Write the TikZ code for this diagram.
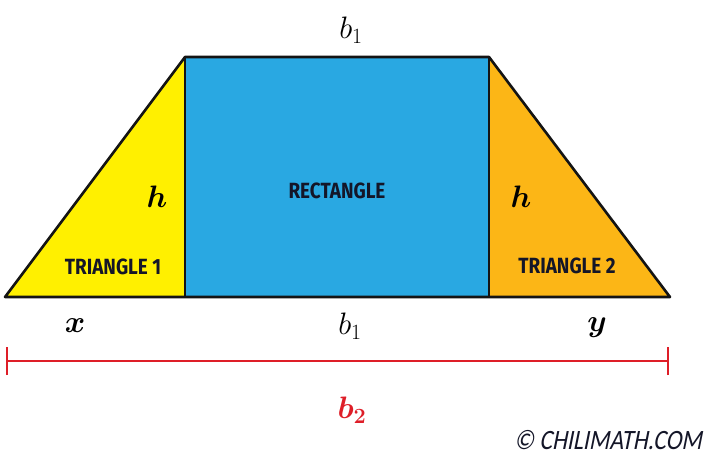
\RequirePackage{fix-cm}
\documentclass[tikz,border=0pt]{standalone}
\usepackage{fontspec}
\usepackage{amsmath}
\usepackage{bm}
\newfontfamily\labelfont[FakeStretch=0.86]{Fira Sans}
\newfontfamily\copyfont[FakeSlant=0.2,FakeStretch=0.85]{Carlito}
\definecolor{triyellow}{RGB}{255,240,0}
\definecolor{rectblue}{RGB}{41,168,226}
\definecolor{triorange}{RGB}{252,182,22}
\definecolor{lineborder}{RGB}{20,20,20}
\definecolor{redline}{RGB}{222,30,40}
\definecolor{navytext}{RGB}{20,22,40}
\tikzset{
  shapeborder/.style={draw=lineborder, line width=2.6pt, line join=round},
  partlabel/.style={font=\labelfont\bfseries\fontsize{22}{24}\selectfont, text=navytext, inner sep=0pt},
  mathlabel/.style={font=\fontsize{31}{36}\selectfont, inner sep=0pt},
  redbar/.style={draw=redline, line width=2.6pt}
}
\begin{document}
\begin{tikzpicture}[x=1pt,y=-1pt]
\useasboundingbox (0,0) rectangle (720,469);
\coordinate (BL) at (5,297);
\coordinate (TL) at (185,57);
\coordinate (TR) at (489,57);
\coordinate (BR) at (670,297);
\coordinate (ML) at (185,297);
\coordinate (MR) at (489,297);
% shapes
\fill[triyellow] (BL) -- (TL) -- (ML) -- cycle;
\fill[rectblue] (TL) -- (TR) -- (MR) -- (ML) -- cycle;
\fill[triorange] (TR) -- (BR) -- (MR) -- cycle;
\draw[shapeborder] (TL) -- (ML);
\draw[shapeborder] (TR) -- (MR);
\draw[shapeborder] (BL) -- (TL) -- (TR) -- (BR) -- cycle;
% labels
\node[mathlabel] (b1top) at (351,30) {$b_1$};
\node[mathlabel] (hleft) at (157,197) {$\bm{h}$};
\node[mathlabel] (hright) at (521,197) {$\bm{h}$};
\node[partlabel] (tri1) at (113,267) {TRIANGLE 1};
\node[partlabel] (rect) at (337,191) {RECTANGLE};
\node[partlabel] (tri2) at (567,266) {TRIANGLE 2};
\node[mathlabel] (xlab) at (75,326) {$\bm{x}$};
\node[mathlabel] (b1bot) at (350,326) {$b_1$};
\node[mathlabel] (ylab) at (597,328) {$\bm{y}$};
% red base
\coordinate (RL) at (7,361);
\coordinate (RR) at (668,361);
\draw[redbar] (RL) -- (RR);
\draw[redbar] ([yshift=-14pt]RL) -- ([yshift=14pt]RL);
\draw[redbar] ([yshift=-14pt]RR) -- ([yshift=14pt]RR);
\node[mathlabel, text=redline] (b2lab) at (352,410) {$\bm{b_2}$};
\node[font=\copyfont\fontsize{28}{30}\selectfont, text=navytext, inner sep=0pt] (copy) at (608,440) {© CHILIMATH.COM};
\end{tikzpicture}
\end{document}
